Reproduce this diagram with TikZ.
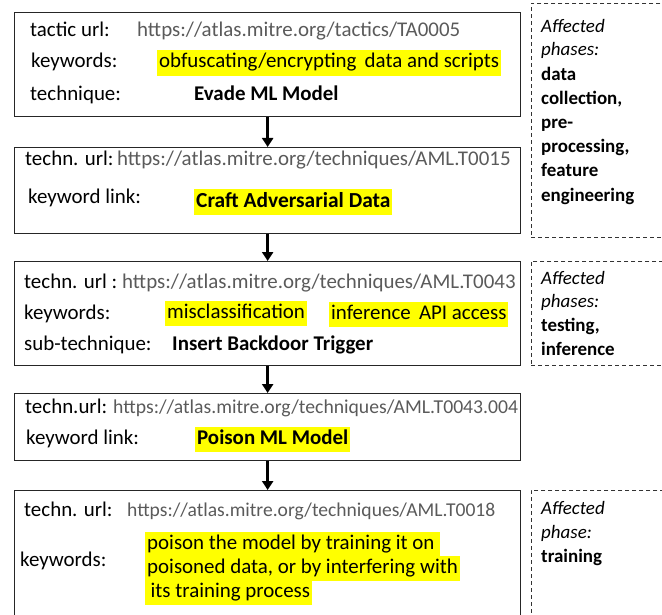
\documentclass[tikz,border=0pt]{standalone}
\usepackage{fontspec}
\setmainfont{Carlito}
\usetikzlibrary{arrows.meta}
\definecolor{urlgray}{HTML}{5A5A5A}
\definecolor{hlyellow}{HTML}{FFFF00}
\begin{document}
\begin{tikzpicture}[x=1bp,y=-1bp,
  box/.style={draw=black!85, line width=1.3bp, rectangle, inner sep=0, anchor=north west, minimum width=506bp},
  dbox/.style={draw=black!80, dashed, dash pattern=on 4bp off 3bp, line width=0.9bp, rectangle, inner sep=0, anchor=north west, minimum width=140bp},
  lbl/.style={anchor=base west, inner sep=0, font=\fontsize{21}{23}\selectfont},
  url/.style={lbl, text=urlgray},
  hl/.style={lbl, fill=hlyellow, inner xsep=2bp, inner ysep=3bp, text height=14.5bp, text depth=5bp},
  bold/.style={lbl, font=\fontsize{21}{23}\selectfont\bfseries},
  side/.style={anchor=base west, inner sep=0, font=\fontsize{19}{21}\selectfont},
  arr/.style={-{Triangle[length=9bp,width=11bp]}, line width=2.5bp}]
\useasboundingbox (0,0) rectangle (662,615);

% main boxes
\node[box, minimum height=104bp] (b1) at (14,12) {};
\node[box, minimum height=86bp]  (b2) at (14,147) {};
\node[box, minimum height=104bp] (b3) at (14,261) {};
\node[box, minimum height=67bp]  (b4) at (14,393) {};
\node[box, minimum height=140bp] (b5) at (14,490) {};

% side boxes
\node[dbox, minimum height=234bp] (d1) at (531,3) {};
\node[dbox, minimum height=104bp] (d2) at (531,261) {};
\node[dbox, minimum height=140bp] (d3) at (531,490) {};

% arrows
\draw[arr] (b1.south) -- (b2.north);
\draw[arr] (b2.south) -- (b3.north);
\draw[arr] (b3.south) -- (b4.north);
\draw[arr] (b4.south) -- (b5.north);

% box 1
\node[lbl] (t1a) at (30,37) {tactic url:};
\node[url] (t1b) at (137,37) {https://atlas.mitre.org/tactics/TA0005};
\node[lbl] (t1c) at (31,68) {keywords:};
\node[hl]  (t1d) at (157,68) {obfuscating/encrypting\, data and scripts};
\node[lbl] (t1e) at (30,101) {technique:};
\node[bold] (t1f) at (194,101) {Evade ML Model};

% box 2
\node[lbl] (t2a) at (25,166) {techn. url:};
\node[url] (t2b) at (117,166) {https://atlas.mitre.org/techniques/AML.T0015};
\node[lbl] (t2c) at (28,203) {keyword link:};
\node[hl, font=\fontsize{21.5}{23}\selectfont\bfseries] (t2d) at (194,207) {Craft Adversarial Data};

% box 3
\node[lbl] (t3a) at (24,288) {techn. url :};
\node[url] (t3b) at (122,288) {https://atlas.mitre.org/techniques/AML.T0043};
\node[lbl] (t3c) at (24,319) {keywords:};
\node[hl]  (t3d) at (165,318) {misclassification};
\node[hl]  (t3e) at (329,319) {inference\, API access};
\node[lbl] (t3f) at (24,350) {sub-technique:};
\node[bold] (t3g) at (172,350) {Insert Backdoor Trigger};

% box 4
\node[lbl] (t4a) at (25,413) {techn.url:};
\node[url, font=\fontsize{19.75}{22}\selectfont] (t4b) at (113,413) {https://atlas.mitre.org/techniques/AML.T0043.004};
\node[lbl] (t4c) at (26,444) {keyword link:};
\node[hl, font=\fontsize{21}{23}\selectfont\bfseries] (t4d) at (195,444) {Poison ML Model};

% box 5
\node[lbl] (t5a) at (24,516) {techn. url:};
\node[url, font=\fontsize{19.65}{22}\selectfont] (t5b) at (127,516) {https://atlas.mitre.org/techniques/AML.T0018};
\node[lbl] (t5c) at (20,566) {keywords:};
\node[hl]  (t5d) at (145,549) {poison the model by training it on\,};
\node[hl]  (t5e) at (145,573) {poisoned data, or by interfering with};
\node[hl]  (t5f) at (145,597) {\,its training process};

% side texts
\node[side] (s1a) at (541,33) {\itshape Affected};
\node[side] (s1b) at (541,56) {\itshape phases:};
\node[side] (s1c) at (541,81) {\bfseries data};
\node[side] (s1d) at (541,105) {\bfseries collection,};
\node[side] (s1e) at (541,129) {\bfseries pre-};
\node[side] (s1f) at (541,153) {\bfseries processing,};
\node[side] (s1g) at (541,177) {\bfseries feature};
\node[side] (s1h) at (541,201) {\bfseries engineering};

\node[side] (s2a) at (541,284) {\itshape Affected};
\node[side] (s2b) at (541,307) {\itshape phases:};
\node[side] (s2c) at (541,331) {\bfseries testing,};
\node[side] (s2d) at (541,355) {\bfseries inference};

\node[side] (s3a) at (541,514) {\itshape Affected};
\node[side] (s3b) at (541,538) {\itshape phase:};
\node[side] (s3c) at (541,562) {\bfseries training};
\end{tikzpicture}
\end{document}
